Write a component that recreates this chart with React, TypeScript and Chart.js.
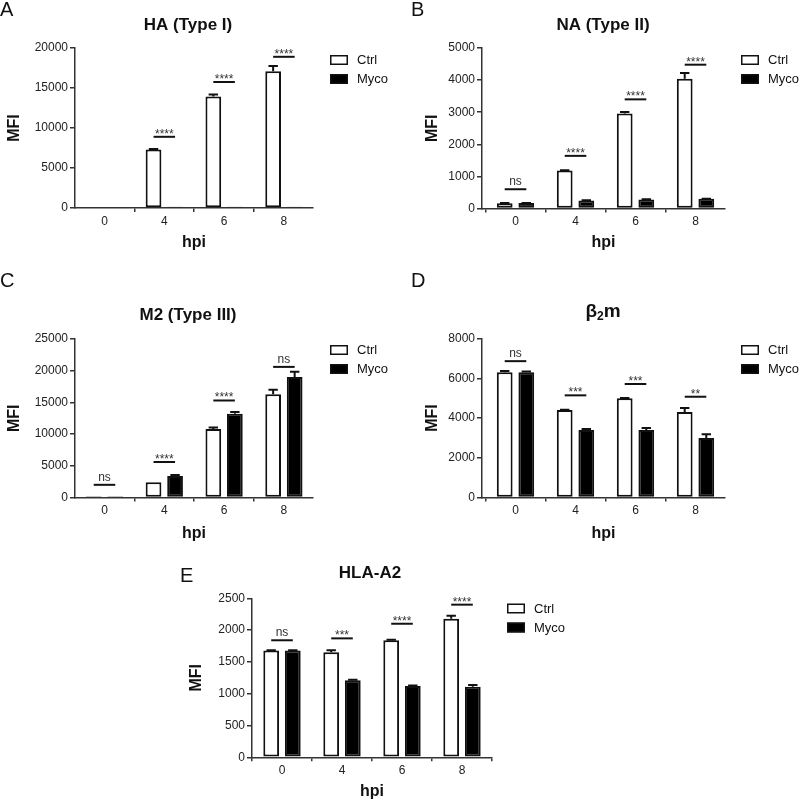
import React, { useEffect, useRef } from 'react';
import { Chart, registerables } from 'chart.js';

Chart.register(...registerables);

const FONT = '"Liberation Sans", Arial, Helvetica, sans-serif';
Chart.defaults.font.family = FONT;

// ---------- data ----------
const hpiLabels = ['0', '4', '6', '8'];
const seriesNames = ['Ctrl', 'Myco'];

// A: HA (Type I)
const haCtrl = [0, 7300, 13950, 17100];
const haCtrlErr = [0, 60, 250, 650];
const haMyco = [0, 150, 150, 150];
const haMycoErr = [0, 0, 0, 0];
const haSig = ['', '****', '****', '****'];
const haSigAt = [0, 8900, 15750, 18900];

// B: NA (Type II)
const naCtrl = [160, 1180, 2960, 4040];
const naCtrlErr = [10, 10, 50, 180];
const naMyco = [170, 250, 280, 300];
const naMycoErr = [5, 5, 5, 5];
const naSig = ['ns', '****', '****', '****'];
const naSigAt = [600, 1640, 3400, 4480];

// C: M2 (Type III)
const m2Ctrl = [200, 2400, 10800, 16300];
const m2CtrlErr = [0, 0, 250, 700];
const m2Myco = [200, 3400, 13200, 19000];
const m2MycoErr = [0, 150, 300, 850];
const m2Sig = ['ns', '****', '****', 'ns'];
const m2SigAt = [2000, 5600, 15300, 20600];

// D: beta2m
const b2mCtrl = [6300, 4400, 5000, 4300];
const b2mCtrlErr = [60, 20, 10, 200];
const b2mMyco = [6300, 3400, 3400, 3000];
const b2mMycoErr = [40, 50, 100, 180];
const b2mSig = ['ns', '***', '***', '**'];
const b2mSigAt = [6860, 5140, 5710, 5070];

// E: HLA-A2
const hlaCtrl = [1680, 1650, 1840, 2180];
const hlaCtrlErr = [5, 35, 10, 45];
const hlaMyco = [1680, 1210, 1120, 1110];
const hlaMycoErr = [5, 8, 10, 25];
const hlaSig = ['ns', '***', '****', '****'];
const hlaSigAt = [1840, 1870, 2100, 2400];

// ---------- layout (page coordinates) ----------
type Part = { t: string; sub?: boolean };
type PanelCfg = {
  letter: string; letterPos: [number, number];
  title: Part[]; titlePos: [number, number];
  ctrl: number[]; ctrlErr: number[]; myco: number[]; mycoErr: number[];
  sig: string[]; sigAt: number[];
  yMax: number; yStep: number;
  canvas: { x: number; y: number; w: number; h: number };
  axis: { l: number; r: number; t: number; b: number };
  c0: number; sp: number;
  legendPos: [number, number];
  mfiX: number; hpiY: number;
};

const panels: PanelCfg[] = [
  {
    letter: 'A', letterPos: [0, -1], title: [{ t: 'HA (Type I)' }], titlePos: [188, 29.5],
    ctrl: haCtrl, ctrlErr: haCtrlErr, myco: haMyco, mycoErr: haMycoErr, sig: haSig, sigAt: haSigAt,
    yMax: 20000, yStep: 5000,
    canvas: { x: 0, y: 0, w: 400, h: 260 }, axis: { l: 75, r: 313, t: 48, b: 208 },
    c0: 104.5, sp: 59.8, legendPos: [330, 55], mfiX: 15, hpiY: 243,
  },
  {
    letter: 'B', letterPos: [411, -1], title: [{ t: 'NA (Type II)' }], titlePos: [603, 30],
    ctrl: naCtrl, ctrlErr: naCtrlErr, myco: naMyco, mycoErr: naMycoErr, sig: naSig, sigAt: naSigAt,
    yMax: 5000, yStep: 1000,
    canvas: { x: 400, y: 0, w: 400, h: 260 }, axis: { l: 482, r: 725, t: 48, b: 208.5 },
    c0: 515.5, sp: 60, legendPos: [741, 55], mfiX: 433, hpiY: 243,
  },
  {
    letter: 'C', letterPos: [0, 269.5], title: [{ t: 'M2 (Type III)' }], titlePos: [188, 320],
    ctrl: m2Ctrl, ctrlErr: m2CtrlErr, myco: m2Myco, mycoErr: m2MycoErr, sig: m2Sig, sigAt: m2SigAt,
    yMax: 25000, yStep: 5000,
    canvas: { x: 0, y: 260, w: 400, h: 290 }, axis: { l: 75, r: 313, t: 339, b: 497.5 },
    c0: 104.5, sp: 59.8, legendPos: [330, 345], mfiX: 15, hpiY: 533.5,
  },
  {
    letter: 'D', letterPos: [411, 269.5], title: [{ t: 'β' }, { t: '2', sub: true }, { t: 'm' }], titlePos: [603, 316.5],
    ctrl: b2mCtrl, ctrlErr: b2mCtrlErr, myco: b2mMyco, mycoErr: b2mMycoErr, sig: b2mSig, sigAt: b2mSigAt,
    yMax: 8000, yStep: 2000,
    canvas: { x: 400, y: 260, w: 400, h: 290 }, axis: { l: 482, r: 725, t: 338.5, b: 497.5 },
    c0: 515.5, sp: 60, legendPos: [741, 345], mfiX: 433, hpiY: 533.5,
  },
  {
    letter: 'E', letterPos: [180, 564.5], title: [{ t: 'HLA-A2' }], titlePos: [370, 577.5],
    ctrl: hlaCtrl, ctrlErr: hlaCtrlErr, myco: hlaMyco, mycoErr: hlaMycoErr, sig: hlaSig, sigAt: hlaSigAt,
    yMax: 2500, yStep: 500,
    canvas: { x: 150, y: 550, w: 450, h: 251 }, axis: { l: 252, r: 492, t: 598.3, b: 757.3 },
    c0: 282, sp: 60, legendPos: [507, 603.5], mfiX: 196.7, hpiY: 791.5,
  },
];

const INK = '#111';
const AXIS = '#333';

const decorPlugin = {
  id: 'decor',
  afterDatasetsDraw(chart: any, _args: any, opts: any) {
    const ctx = chart.ctx as CanvasRenderingContext2D;
    const ys = chart.scales.y;
    // error bars (upper only)
    chart.data.datasets.forEach((ds: any, di: number) => {
      const meta = chart.getDatasetMeta(di);
      meta.data.forEach((bar: any, i: number) => {
        const e = ds.errors[i];
        if (!e) return;
        const top = ys.getPixelForValue(ds.data[i].y + e);
        ctx.save();
        ctx.strokeStyle = INK;
        ctx.lineWidth = 2;
        ctx.beginPath();
        ctx.moveTo(bar.x, bar.y);
        ctx.lineTo(bar.x, top);
        ctx.moveTo(bar.x - 4.7, top);
        ctx.lineTo(bar.x + 4.7, top);
        ctx.stroke();
        ctx.restore();
      });
    });
    // significance bars
    const m0 = chart.getDatasetMeta(0);
    const m1 = chart.getDatasetMeta(1);
    opts.sig.forEach((label: string, i: number) => {
      if (!label) return;
      const x1 = m0.data[i].x;
      const x2 = m1.data[i].x;
      const yy = ys.getPixelForValue(opts.sigAt[i]);
      ctx.save();
      ctx.strokeStyle = INK;
      ctx.lineWidth = 2;
      ctx.beginPath();
      ctx.moveTo(x1, yy);
      ctx.lineTo(x2, yy);
      ctx.stroke();
      ctx.fillStyle = '#333';
      ctx.font = `12px ${FONT}`;
      ctx.textAlign = 'center';
      ctx.textBaseline = 'alphabetic';
      ctx.fillText(label, (x1 + x2) / 2, label === 'ns' ? yy - 4 : yy + 1);
      ctx.restore();
    });
  },
  afterDraw(chart: any, _args: any, opts: any) {
    const ctx = chart.ctx as CanvasRenderingContext2D;
    // title (rich parts)
    const parts: Part[] = opts.title;
    const mainFont = parts.length > 1 ? `bold 19px ${FONT}` : `bold 17px ${FONT}`;
    const subFont = `bold 12px ${FONT}`;
    ctx.save();
    let total = 0;
    parts.forEach((p) => {
      ctx.font = p.sub ? subFont : mainFont;
      total += ctx.measureText(p.t).width;
    });
    let x = opts.titleX - total / 2;
    ctx.fillStyle = INK;
    ctx.textBaseline = 'alphabetic';
    ctx.textAlign = 'left';
    parts.forEach((p) => {
      ctx.font = p.sub ? subFont : mainFont;
      ctx.fillText(p.t, x, opts.titleY + (p.sub ? 3 : 0));
      x += ctx.measureText(p.t).width;
    });
    // legend
    const [lx, ly] = opts.legend;
    chart.data.datasets.forEach((ds: any, di: number) => {
      const by = ly + di * 19;
      ctx.fillStyle = ds.backgroundColor;
      ctx.fillRect(lx, by, 18, 10);
      ctx.strokeStyle = INK;
      ctx.lineWidth = 1.5;
      ctx.strokeRect(lx + 0.75, by + 0.75, 16.5, 8.5);
      ctx.fillStyle = INK;
      ctx.font = `13px ${FONT}`;
      ctx.textBaseline = 'middle';
      ctx.fillText(ds.label, lx + 27, by + 5.5);
    });
    ctx.restore();
  },
};

function Panel({ cfg }: { cfg: PanelCfg }) {
  const ref = useRef<HTMLCanvasElement | null>(null);
  useEffect(() => {
    if (!ref.current) return;
    const { canvas: cv, axis } = cfg;
    const yWidth = axis.l - cv.x;
    const xHeight = cv.y + cv.h - axis.b;
    const padTop = axis.t - cv.y;
    const padRight = cv.x + cv.w - axis.r;
    const xMin = -(cfg.c0 - axis.l) / cfg.sp;
    const xMax = (axis.r - cfg.c0) / cfg.sp;
    const mfiPad = Math.max(0, cfg.mfiX - cv.x - 9.6);
    const hpiPad = Math.max(0, cv.y + cv.h - cfg.hpiY - 9.6);
    const chart = new Chart(ref.current, {
      type: 'bar',
      data: {
        datasets: [
          {
            label: seriesNames[0],
            data: cfg.ctrl.map((v, i) => ({ x: i, y: v })),
            errors: cfg.ctrlErr,
            backgroundColor: '#ffffff',
            borderColor: INK,
            borderWidth: 2,
            borderSkipped: false,
            categoryPercentage: 0.72,
            barPercentage: 0.73,
          } as any,
          {
            label: seriesNames[1],
            data: cfg.myco.map((v, i) => ({ x: i, y: v })),
            errors: cfg.mycoErr,
            backgroundColor: '#000000',
            borderColor: INK,
            borderWidth: 2,
            borderSkipped: false,
            categoryPercentage: 0.72,
            barPercentage: 0.73,
          } as any,
        ],
      },
      options: {
        animation: false,
        responsive: false,
        maintainAspectRatio: false,
        layout: { padding: { left: 0, top: padTop, right: padRight, bottom: 0 } },
        plugins: {
          legend: { display: false },
          tooltip: { enabled: false },
          title: { display: false },
          decor: {
            title: cfg.title,
            titleX: cfg.titlePos[0] - cv.x,
            titleY: cfg.titlePos[1] - cv.y,
            legend: [cfg.legendPos[0] - cv.x, cfg.legendPos[1] - cv.y],
            sig: cfg.sig,
            sigAt: cfg.sigAt,
          },
        } as any,
        scales: {
          x: {
            type: 'linear',
            min: xMin,
            max: xMax,
            offset: false,
            afterBuildTicks: (s: any) => {
              s.ticks = hpiLabels.map((_, i) => ({ value: i }));
            },
            afterFit: (s: any) => {
              s.height = xHeight;
            },
            ticks: {
              callback: (v: any) => hpiLabels[v as number] ?? '',
              font: { size: 12 },
              color: '#222',
              padding: 2,
              maxRotation: 0,
              autoSkip: false,
            },
            grid: { display: true, drawOnChartArea: false, drawTicks: true, tickLength: 4, color: AXIS, lineWidth: 1.5 },
            border: { display: true, color: AXIS, width: 1.5 },
            title: {
              display: true,
              text: 'hpi',
              font: { size: 16, weight: 'bold' },
              color: INK,
              padding: { top: 0, bottom: hpiPad },
            },
          },
          y: {
            min: 0,
            max: cfg.yMax,
            afterFit: (s: any) => {
              s.width = yWidth;
            },
            ticks: {
              stepSize: cfg.yStep,
              callback: (v: any) => String(v),
              font: { size: 12 },
              color: '#222',
              padding: 2,
            },
            grid: { display: true, drawOnChartArea: false, drawTicks: true, tickLength: 5, color: AXIS, lineWidth: 1.5 },
            border: { display: true, color: AXIS, width: 1.5 },
            title: {
              display: true,
              text: 'MFI',
              font: { size: 16, weight: 'bold' },
              color: INK,
              padding: { top: mfiPad, bottom: 0 },
            },
          },
        } as any,
      },
      plugins: [decorPlugin as any],
    });
    return () => chart.destroy();
  }, [cfg]);
  const { canvas: cv } = cfg;
  return (
    <>
      <canvas
        ref={ref}
        width={cv.w}
        height={cv.h}
        style={{ position: 'absolute', left: cv.x, top: cv.y, width: cv.w, height: cv.h }}
      />
      <div
        style={{
          position: 'absolute',
          left: cfg.letterPos[0],
          top: cfg.letterPos[1],
          font: `20px/20px ${FONT}`,
          color: '#111',
        }}
      >
        {cfg.letter}
      </div>
    </>
  );
}

export default function App() {
  return (
    <div style={{ position: 'fixed', left: 0, top: 0, width: 800, height: 801, background: '#fff', overflow: 'hidden' }}>
      {panels.map((p) => (
        <Panel key={p.letter} cfg={p} />
      ))}
    </div>
  );
}
